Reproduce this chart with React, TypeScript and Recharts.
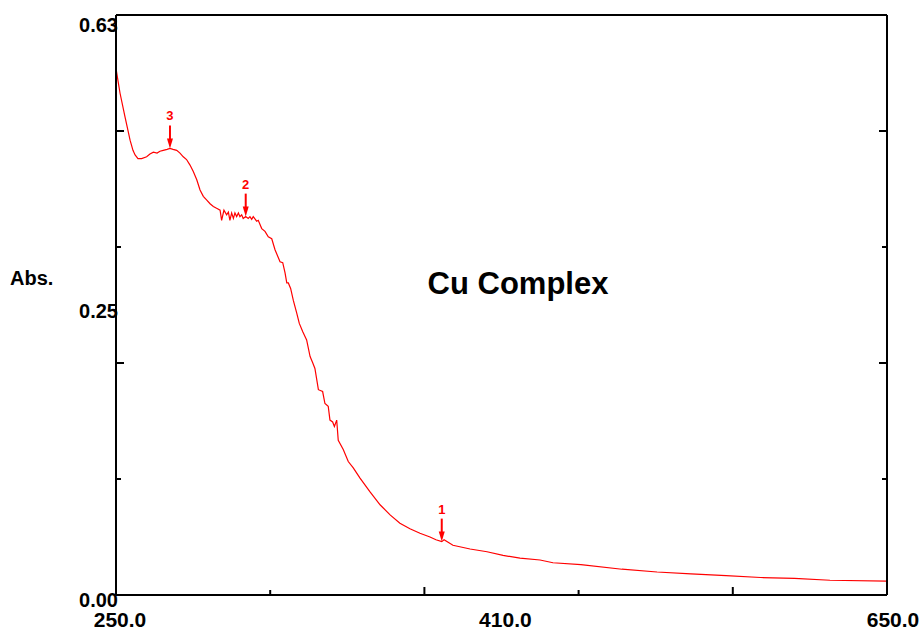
import React from 'react';
import { ComposedChart, Line, Scatter, XAxis, YAxis, ReferenceLine, Label } from 'recharts';

// spectrum (nm, Abs.)
const wavelength = [
  250.0, 251.0, 252.1, 254.7, 257.3, 258.8, 259.9, 261.4, 263.3, 265.9,
  267.6, 269.4, 271.3, 272.8, 274.5, 276.5, 278.0, 279.6, 281.5, 283.2,
  284.9, 286.6, 288.4, 290.1, 291.9, 293.6, 295.3, 297.1, 298.8, 300.5,
  302.2, 304.0, 304.8, 306.0, 307.4, 308.3, 309.1, 310.0, 310.9, 311.7,
  312.6, 313.5, 314.3, 315.2, 316.0, 317.3, 318.6, 319.5, 320.4, 321.2,
  323.0, 323.8, 325.6, 327.3, 329.0, 330.8, 332.5, 335.1, 336.5, 337.7,
  338.6, 339.4, 340.6, 342.0, 343.8, 345.1, 346.9, 348.9, 350.7, 352.1,
  353.2, 355.0, 357.2, 358.4, 360.1, 361.0, 362.4, 363.3, 364.5, 365.3,
  367.9, 370.5, 373.1, 376.6, 381.8, 387.0, 392.2, 397.3, 402.5, 407.7,
  412.9, 416.0, 419.0, 420.2, 424.8, 433.7, 442.5, 450.8, 459.6, 470.0,
  476.7, 491.2, 512.5, 530.7, 548.3, 566.5, 584.4, 602.0, 620.4, 650.0,
];
const absorbance = [
  0.572, 0.559, 0.545, 0.519, 0.494, 0.483, 0.478, 0.474, 0.474, 0.476,
  0.479, 0.481, 0.480, 0.482, 0.483, 0.484, 0.485, 0.484, 0.483, 0.480,
  0.476, 0.473, 0.467, 0.460, 0.451, 0.440, 0.433, 0.429, 0.425, 0.422,
  0.420, 0.418, 0.407, 0.418, 0.413, 0.416, 0.407, 0.415, 0.409, 0.415,
  0.411, 0.415, 0.411, 0.413, 0.409, 0.411, 0.409, 0.411, 0.408, 0.411,
  0.406, 0.407, 0.398, 0.395, 0.389, 0.387, 0.375, 0.362, 0.361, 0.350,
  0.339, 0.339, 0.333, 0.320, 0.306, 0.295, 0.286, 0.277, 0.259, 0.252,
  0.246, 0.223, 0.221, 0.208, 0.205, 0.190, 0.188, 0.183, 0.190, 0.168,
  0.158, 0.145, 0.138, 0.127, 0.112, 0.098, 0.087, 0.078, 0.072, 0.067,
  0.063, 0.060, 0.058, 0.060, 0.054, 0.050, 0.047, 0.043, 0.040, 0.038,
  0.035, 0.033, 0.028, 0.025, 0.023, 0.021, 0.019, 0.018, 0.016, 0.015,
];

// peak picks
const peakWavelength = [419.0, 317.3, 278.0];
const peakAbsorbance = [0.058, 0.411, 0.485];
const peakLabels = ['1', '2', '3'];

const xTicks = [250, 330, 410, 490, 570, 650];
const xMajor = [410, 570];
const xMinor = [330, 490];
const xLabelTicks = [250, 410, 650];

const yTicks = [0, 0.126, 0.252, 0.378, 0.504, 0.63];
const yMajor = [0.252, 0.504];
const yMinor = [0.126, 0.378];
const yLabelTicks = [0, 0.252, 0.63];

const spectrum = wavelength.map((x, i) => ({ x, y: absorbance[i] }));
const peaks = peakWavelength.map((x, i) => ({ x, y: peakAbsorbance[i], label: peakLabels[i] }));

const FONT = '"Liberation Sans", Arial, Helvetica, sans-serif';
const RED = '#ff0000';

// label nudges, the instrument software puts them slightly off the ticks
const xLabelDx: Record<number, number> = { 250: 4, 410: 81, 650: 6 };
const yLabelDy: Record<number, number> = { 0: 12, 0.252: -45, 0.63: 17 };

const tickLen = (v: number, major: number[], minor: number[]) =>
  major.includes(v) ? 8 : minor.includes(v) ? 5 : 0;

const BottomTick = ({ x, y, payload }: any) => {
  const v = payload.value;
  const len = tickLen(v, xMajor, xMinor);
  return (
    <g>
      {len > 0 && <line x1={x} x2={x} y1={y} y2={y - len} stroke="#000" strokeWidth={2} />}
      {xLabelTicks.includes(v) && (
        <text x={x + (xLabelDx[v] || 0)} y={y + 32} textAnchor="middle"
          fontFamily={FONT} fontWeight="bold" fontSize={21} fill="#000">
          {v.toFixed(1)}
        </text>
      )}
    </g>
  );
};

const LeftTick = ({ x, y, payload }: any) => {
  const v = payload.value;
  const len = tickLen(v, yMajor, yMinor);
  return (
    <g>
      {len > 0 && <line x1={x} x2={x + len} y1={y} y2={y} stroke="#000" strokeWidth={2} />}
      {yLabelTicks.includes(v) && (
        <text x={x + 2} y={y + (yLabelDy[v] || 0)} textAnchor="end"
          fontFamily={FONT} fontWeight="bold" fontSize={20} fill="#000">
          {v.toFixed(2)}
        </text>
      )}
    </g>
  );
};

const RightTick = ({ x, y, payload }: any) => {
  const len = tickLen(payload.value, yMajor, yMinor);
  return len > 0 ? <line x1={x} x2={x - len} y1={y} y2={y} stroke="#000" strokeWidth={2} /> : <g />;
};

const PeakMarker = ({ cx, cy, payload }: any) => (
  <g>
    <line x1={cx} x2={cx} y1={cy - 23} y2={cy - 8} stroke={RED} strokeWidth={2} />
    <polygon points={`${cx - 3},${cy - 10} ${cx + 3},${cy - 10} ${cx},${cy}`} fill={RED} />
    <text x={cx} y={cy - 28} textAnchor="middle" fontFamily={FONT} fontWeight="bold"
      fontSize={13} fill={RED}>
      {payload.label}
    </text>
  </g>
);

export default function App() {
  return (
    <div style={{ position: 'relative', width: 920, height: 630, background: '#fff' }}>
      <style>{'body{margin:0}'}</style>
      <ComposedChart width={920} height={630} data={spectrum}
        margin={{ top: 15, right: 0, bottom: 0, left: 0 }}>
        <XAxis dataKey="x" type="number" domain={[250, 650]} ticks={xTicks}
          height={35} tickSize={0} tickMargin={0} tickLine={false} interval={0}
          axisLine={{ stroke: '#000', strokeWidth: 2 }} tick={<BottomTick />} />
        <YAxis yAxisId="left" type="number" domain={[0, 0.63]} ticks={yTicks}
          width={116} tickSize={0} tickMargin={0} tickLine={false} interval={0}
          axisLine={{ stroke: '#000', strokeWidth: 2 }} tick={<LeftTick />}>
          <Label content={({ viewBox }: any) => (
            <text x={10} y={viewBox.y + viewBox.height / 2 - 20} fontFamily={FONT}
              fontWeight="bold" fontSize={20} fill="#000">Abs.</text>
          )} />
        </YAxis>
        <YAxis yAxisId="right" orientation="right" type="number" domain={[0, 0.63]}
          ticks={yTicks} width={33} tickSize={0} tickMargin={0} tickLine={false} interval={0}
          axisLine={{ stroke: '#000', strokeWidth: 2 }} tick={<RightTick />} />
        <ReferenceLine yAxisId="left" y={0.63} stroke="#000" strokeWidth={2} />
        <Line yAxisId="left" dataKey="y" type="linear" stroke={RED} strokeWidth={1.2}
          dot={false} isAnimationActive={false} />
        <Scatter yAxisId="right" data={peaks} dataKey="y" shape={<PeakMarker />}
          isAnimationActive={false} />
      </ComposedChart>
      <div style={{
        position: 'absolute', left: 368, top: 268, width: 300, textAlign: 'center',
        fontFamily: FONT, fontWeight: 'bold', fontSize: 31, lineHeight: '31px', color: '#000',
      }}>
        Cu Complex
      </div>
    </div>
  );
}
